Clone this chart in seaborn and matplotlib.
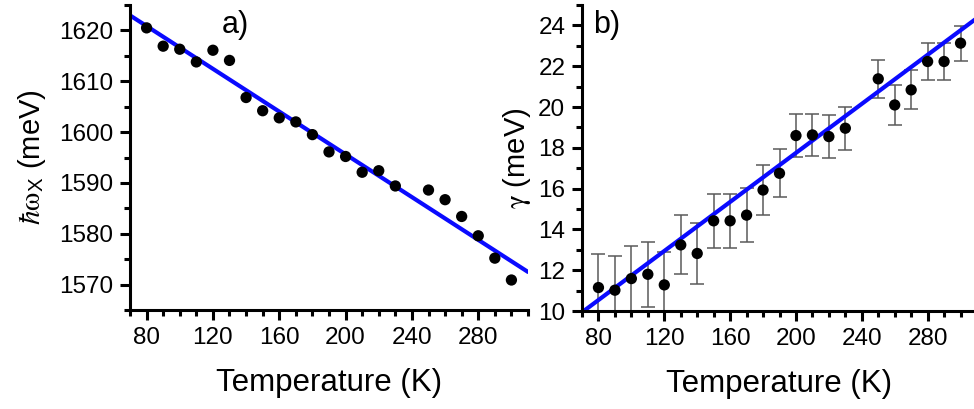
import numpy as np
import matplotlib
matplotlib.use("Agg")
import matplotlib.pyplot as plt
import seaborn as sns
from matplotlib.ticker import MultipleLocator

# Temperatures (K); no point at 240 K
temps = [80, 90, 100, 110, 120, 130, 140, 150, 160, 170, 180, 190, 200,
         210, 220, 230, 250, 260, 270, 280, 290, 300]

# a) exciton energy (meV)
energy = [1620.5, 1616.9, 1616.3, 1613.8, 1616.1, 1614.1, 1606.8, 1604.2,
          1602.8, 1602.0, 1599.5, 1596.1, 1595.2, 1592.1, 1592.4, 1589.4,
          1588.6, 1586.7, 1583.4, 1579.6, 1575.2, 1570.9]

# b) linewidth gamma (meV) and error bars
gamma = [11.15, 11.02, 11.59, 11.80, 11.28, 13.24, 12.82, 14.42, 14.42,
         14.70, 15.93, 16.75, 18.60, 18.63, 18.55, 18.96, 21.38, 20.10,
         20.84, 22.23, 22.23, 23.13]
gamma_err = [1.63, 1.70, 1.60, 1.60, 1.60, 1.45, 1.48, 1.33, 1.33, 1.32,
             1.24, 1.17, 1.05, 1.05, 1.05, 1.05, 0.93, 0.99, 0.95, 0.90,
             0.90, 0.86]

# linear fits (intercept, slope)
fit_a = (1637.68, -0.2103)
fit_b = (5.73, 0.0601)
fit_t = [70, 310]

sns.set_theme(style="ticks")
plt.rcParams["font.family"] = ["Liberation Sans", "DejaVu Sans"]
plt.rcParams["mathtext.fontset"] = "stix"
plt.rcParams["axes.linewidth"] = 2.2
plt.rcParams["text.color"] = "black"
plt.rcParams["axes.labelcolor"] = "black"
plt.rcParams["xtick.color"] = "black"
plt.rcParams["ytick.color"] = "black"

fig = plt.figure(figsize=(9.74, 4.09), dpi=100)
ax1 = fig.add_axes([130 / 974, 99 / 409, 398 / 974, 305 / 409])
ax2 = fig.add_axes([582 / 974, 98 / 409, 395 / 974, 306 / 409])

# panel a
sns.lineplot(x=fit_t, y=[fit_a[0] + fit_a[1] * t for t in fit_t], ax=ax1,
             color="#0a0aff", linewidth=3, zorder=2)
sns.scatterplot(x=temps, y=energy, ax=ax1, color="black", s=66,
                edgecolor="none", zorder=3)
ax1.set_xlim(70, 310)
ax1.set_ylim(1565, 1625)
ax1.yaxis.set_major_locator(MultipleLocator(10))
ax1.yaxis.set_minor_locator(MultipleLocator(5))
ax1.set_ylabel(r"$\hbar\mathrm{\omega}_{\mathregular{X}}$ (meV)",
               fontsize=21, labelpad=8)
ax1.text(0.264, 0.934, "a)", transform=ax1.transAxes, fontsize=22,
         ha="center", va="center")

# panel b
ax2.errorbar(temps, gamma, yerr=gamma_err, fmt="none", ecolor="#5a5a5a",
             elinewidth=1.1, capsize=4.7, capthick=1.1, zorder=1)
sns.lineplot(x=fit_t, y=[fit_b[0] + fit_b[1] * t for t in fit_t], ax=ax2,
             color="#0a0aff", linewidth=3, zorder=2)
sns.scatterplot(x=temps, y=gamma, ax=ax2, color="black", s=66,
                edgecolor="none", zorder=3)
ax2.set_xlim(70, 310)
ax2.set_ylim(10, 25)
ax2.yaxis.set_major_locator(MultipleLocator(2))
ax2.yaxis.set_minor_locator(MultipleLocator(1))
ax2.set_ylabel(r"$\mathrm{\gamma}$ (meV)", fontsize=21, labelpad=4)
ax2.text(0.062, 0.934, "b)", transform=ax2.transAxes, fontsize=22,
         ha="center", va="center")

for ax in (ax1, ax2):
    ax.xaxis.set_major_locator(MultipleLocator(40))
    ax.xaxis.set_minor_locator(MultipleLocator(10))
    ax.set_xticks(range(80, 281, 40))
    ax.set_xlabel("Temperature (K)", fontsize=22.5, labelpad=14)
    ax.tick_params(which="major", length=7, width=2.2, labelsize=17.5,
                   pad=5)
    ax.tick_params(which="minor", length=4, width=2.2)
    sns.despine(ax=ax)
    for s in ("left", "bottom"):
        ax.spines[s].set_color("black")

fig.savefig("out.png", dpi=100)
